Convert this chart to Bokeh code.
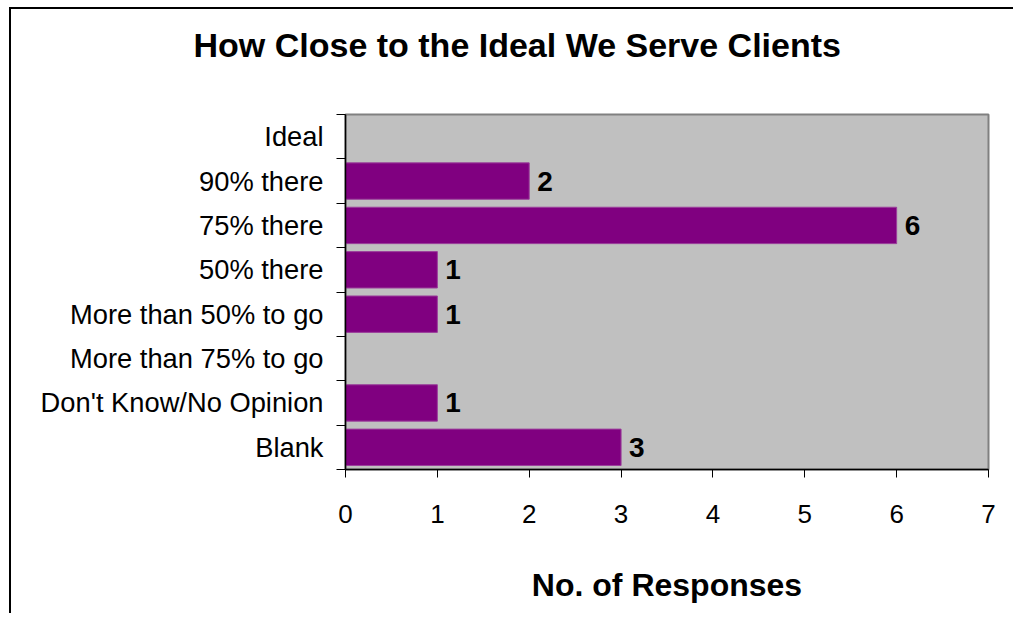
from bokeh.plotting import figure
from bokeh.models import (FactorRange, Range1d, LinearAxis, FixedTicker,
                          ColumnDataSource, LabelSet, Title)
from bokeh.core.properties import value
from bokeh.embed import file_html
from bokeh.resources import INLINE

# Data (top to bottom as shown)
categories = ["Ideal", "90% there", "75% there", "50% there",
              "More than 50% to go", "More than 75% to go",
              "Don't Know/No Opinion", "Blank"]
responses = [0, 2, 6, 1, 1, 0, 1, 3]
x_ticks = [0, 1, 2, 3, 4, 5, 6, 7]
title_text = "How Close to the Ideal We Serve Clients"
x_label = "No. of Responses"

FONT = "Liberation Sans"

factors = list(reversed(categories))
src = ColumnDataSource(dict(
    cat=categories,
    val=responses,
    txt=[str(v) if v else "" for v in responses],
))

p = figure(width=1004, height=606,
           y_range=FactorRange(factors=factors),
           x_range=Range1d(0, 7),
           output_backend="svg", toolbar_location=None,
           x_axis_location=None, y_axis_location=None)

# outer chart border (continues beyond the visible area at right/bottom)
p.styles = {"margin-left": "9px", "margin-top": "7px",
            "border-left": "2px solid black", "border-top": "2px solid black"}

p.min_border_left = 334
p.min_border_right = 27
p.min_border_top = 105
p.min_border_bottom = 146

p.background_fill_color = "#C0C0C0"
p.border_fill_color = "white"
p.outline_line_color = "#808080"
p.outline_line_width = 2
p.xgrid.visible = False
p.ygrid.visible = False

# Title (trailing line break keeps the title high above the plot area)
title = Title(text=title_text + "\n", text_font=FONT, text_font_size="34px",
              text_font_style="bold", text_color="black",
              align="left", offset=-152, vertical_align="top", standoff=22)
p.add_layout(title, "above")

# Bars
p.hbar(y="cat", right="val", left=0, height=0.82, source=src,
       fill_color="#800080", line_color="#9B3F9B", line_width=1)

labels = LabelSet(x="val", y="cat", text="txt", source=src,
                  x_offset=8, text_baseline="middle", text_align="left",
                  text_font=value(FONT), text_font_size=value("28px"),
                  text_font_style="bold", text_color="black")
p.add_layout(labels)

# Left axis: category names at band centres, tick marks at band boundaries
n = len(factors)
centres = [i + 0.5 for i in range(n)]
y_axis = LinearAxis(ticker=FixedTicker(ticks=centres,
                                       minor_ticks=list(range(n + 1))))
y_axis.major_label_overrides = {c: f for c, f in zip(centres, factors)}
y_axis.axis_line_color = "black"
y_axis.axis_line_width = 1.5
y_axis.major_tick_line_color = None
y_axis.major_tick_in = 0
y_axis.major_tick_out = 9
y_axis.minor_tick_in = 0
y_axis.minor_tick_out = 9
y_axis.minor_tick_line_color = "black"
y_axis.major_label_standoff = 13
y_axis.major_label_text_font = FONT
y_axis.major_label_text_font_size = "27.3px"
y_axis.major_label_text_color = "black"
p.add_layout(y_axis, "left")

# Bottom axis
x_axis = LinearAxis(ticker=FixedTicker(ticks=x_ticks), axis_label=x_label)
x_axis.axis_line_color = "black"
x_axis.axis_line_width = 1.5
x_axis.major_tick_in = 0
x_axis.major_tick_out = 8
x_axis.minor_tick_line_color = None
x_axis.major_label_standoff = 27
x_axis.major_label_text_font = FONT
x_axis.major_label_text_font_size = "26px"
x_axis.major_label_text_color = "black"
x_axis.axis_label_text_font = FONT
x_axis.axis_label_text_font_size = "32px"
x_axis.axis_label_text_font_style = "bold"
x_axis.axis_label_text_color = "black"
x_axis.axis_label_standoff = 41
p.add_layout(x_axis, "below")

open("out.html", "w").write(file_html(p, INLINE))
